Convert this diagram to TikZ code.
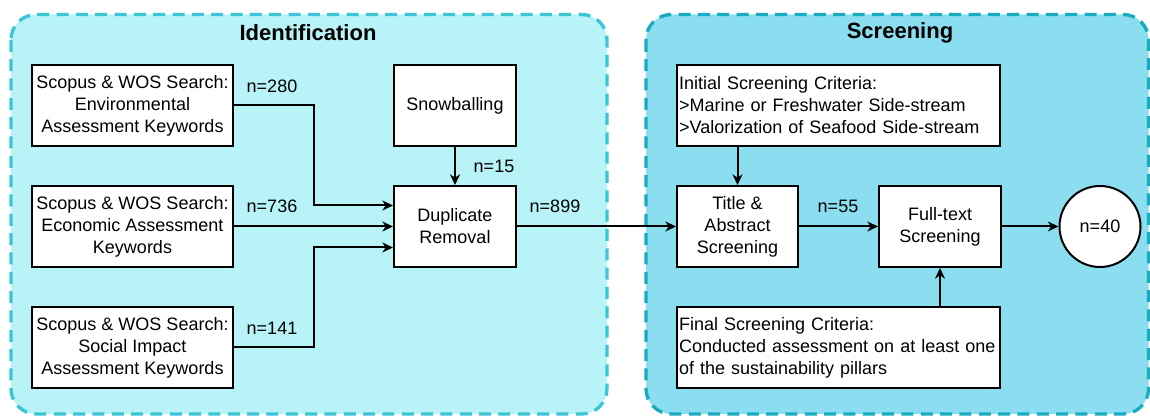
\documentclass[tikz,border=0pt]{standalone}
\usepackage{fontspec}
\setmainfont{Liberation Sans}
\usetikzlibrary{arrows.meta,calc}
\definecolor{idfill}{HTML}{B8F3F7}
\definecolor{iddraw}{HTML}{3BC5D5}
\definecolor{scfill}{HTML}{8ADEEF}
\definecolor{scdraw}{HTML}{19ABBF}
\tikzset{
  stage/.style={line width=2.5pt, dash pattern=on 9pt off 5.5pt, rounded corners=19pt},
  box/.style={draw=black, fill=white, line width=1.5pt, font=\fontsize{13.5}{16.5}\selectfont, align=center, inner sep=1.5pt, minimum height=60.75pt},
  wbox/.style={box, align=left, minimum width=242.25pt, text width=239pt},
  lbl/.style={font=\fontsize{13.5}{16.5}\selectfont, inner sep=0pt},
  ttl/.style={font=\fontsize{16.5}{19}\selectfont\bfseries, inner sep=0pt},
  arr/.style={line width=1.5pt, -{Stealth[length=8pt,width=7.5pt,inset=2.5pt]}}
}
\begin{document}
\begin{tikzpicture}[x=0.75pt,y=-0.75pt]
\useasboundingbox (0,0) rectangle (1150,416);
% containers
\draw[stage, draw=iddraw, fill=idfill] (11,14.5) rectangle (607,414);
\draw[stage, draw=scdraw, fill=scfill] (646,14.5) rectangle (1148.5,414);
\node[ttl] (tid) at (308,33) {Identification};
\node[ttl] (tsc) at (900,33) {Screening};
% identification boxes
\node[box, minimum width=150.75pt] (env) at (132.5,105.5) {Scopus \& WOS Search:\\Environmental\\Assessment Keywords};
\node[box, minimum width=150.75pt] (eco) at (132.5,226.5) {Scopus \& WOS Search:\\Economic Assessment\\Keywords};
\node[box, minimum width=150.75pt] (soc) at (132.5,347.5) {Scopus \& WOS Search:\\Social Impact\\Assessment Keywords};
\node[box, minimum width=91.5pt] (snow) at (455,105.5) {Snowballing};
\node[box, minimum width=91.5pt] (dup) at (455,226.5) {Duplicate\\Removal};
% screening boxes
\node[wbox] (init) at (838.5,105.5) {Initial Screening Criteria:\\>Marine or Freshwater Side-stream\\>Valorization of Seafood Side-stream};
\node[box, minimum width=90.75pt] (tab) at (737.5,226.5) {Title \&\\Abstract\\Screening};
\node[box, minimum width=91.5pt] (full) at (940,226.5) {Full-text\\Screening};
\node[wbox] (fin) at (838.5,347.5) {Final Screening Criteria:\\Conducted assessment on at least one\\of the sustainability pillars};
\node[box, circle, minimum size=60.75pt, inner sep=0pt] (res) at (1100,226.5) {n=40};
% connectors
\draw[arr] (env.east) -- ++(80,0) |- ($(dup.west)+(0,-21)$);
\draw[arr] (eco.east) -- (dup.west |- eco.east);
\draw[arr] (soc.east) -- ++(80,0) |- ($(dup.west)+(0,21)$);
\draw[arr] (snow.south) -- (dup.north);
\draw[arr] (dup.east) -- (tab.west);
\draw[arr] (init.south -| tab.north) -- (tab.north);
\draw[arr] (tab.east) -- (full.west);
\draw[arr] (fin.north -| full.south) -- (full.south);
\draw[arr] (full.east) -- (res.west);
% labels
\node[lbl] (l280) at (272,86) {n=280};
\node[lbl] (l736) at (272,206) {n=736};
\node[lbl] (l141) at (272,328) {n=141};
\node[lbl] (l15) at (494,166) {n=15};
\node[lbl] (l899) at (555,206) {n=899};
\node[lbl] (l55) at (838,206) {n=55};
\end{tikzpicture}
\end{document}
